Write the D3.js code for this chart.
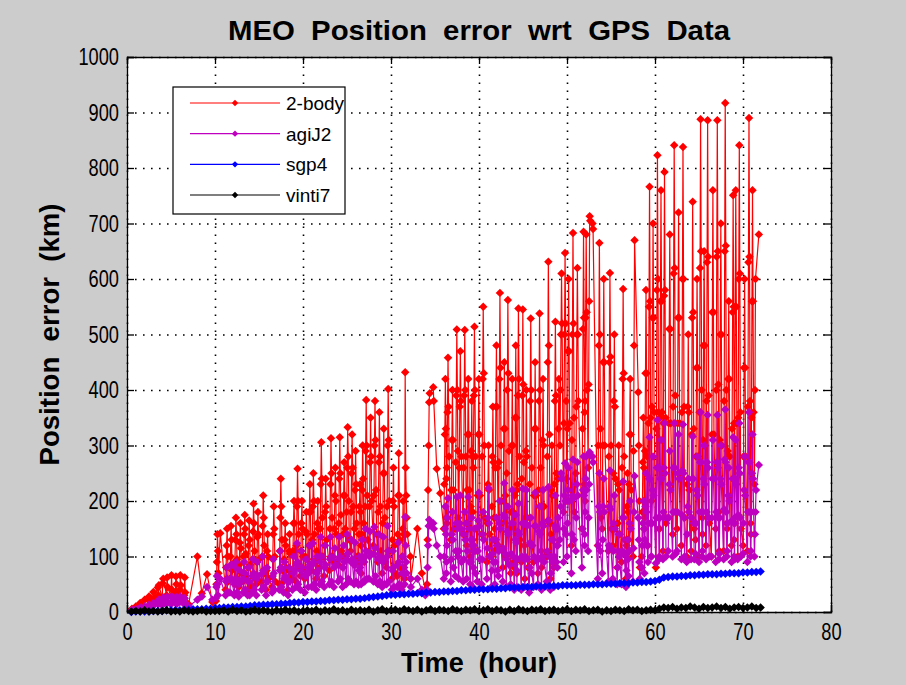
<!DOCTYPE html>
<html>
<head>
<meta charset="utf-8">
<script src="https://cdn.jsdelivr.net/npm/d3@7"></script>
<style>
  html, body { margin: 0; padding: 0; background: #cccccc; }
  svg { display: block; font-family: "Liberation Sans", Arial, sans-serif; }
</style>
</head>
<body>
<div id="chart"></div>
<script>
const chartTitle = 'MEO  Position  error  wrt  GPS  Data';
const xLabel = 'Time  (hour)';
const yLabel = 'Position  error  (km)';
const xTicks = [0, 10, 20, 30, 40, 50, 60, 70, 80];
const yTicks = [0, 100, 200, 300, 400, 500, 600, 700, 800, 900, 1000];
const seriesNames = ['2-body', 'agiJ2', 'sgp4', 'vinti7'];
const seriesColors = ['#ff0000', '#bf00bf', '#0000ff', '#000000'];

// passes: [start hour, error samples (km)], samples 0.06 h apart
const SAMPLE_DT = 0.06;
const twoBody = [
  [0.5, [3, 6]], [1.0, [10]], [1.5, [16, 12]], [2.0, [22]], [2.5, [28, 20]], [3.0, [36, 25]],
  [3.5, [44, 30, 48]], [4.0, [25, 52, 60]], [4.5, [30, 62, 45]], [5.0, [28, 66, 40]],
  [5.5, [35, 64, 50, 30]], [6.0, [40, 66, 48]], [6.5, [30, 62, 35]], [7.0, [14]], [8.0, [100]],
  [8.5, [34]], [9.1, [68]], [9.7, [18]],
  [10.1, [20, 50, 90, 140, 110, 70]], [10.6, [142]], [11.2, [40, 80, 120, 150, 100, 55]],
  [11.7, [60, 100, 155, 130, 75]], [12.2, [50, 90, 130, 170, 140, 95, 60]],
  [12.7, [45, 85, 125, 160, 115, 70]], [13.2, [55, 100, 140, 175, 150, 105, 65]],
  [13.7, [40, 80, 120, 165, 130, 85, 45]], [14.2, [45, 95, 145, 195, 160, 110, 60]],
  [14.7, [50, 90, 135, 180, 140, 95]], [15.3, [55, 100, 155, 210, 170, 120, 70]],
  [15.8, [40, 75, 110, 140, 100, 60]], [16.5, [45, 95, 140, 190, 150, 100, 55]],
  [17.3, [50, 110, 170, 240, 190, 130, 75]], [17.8, [55, 95, 130, 160, 120, 80]],
  [18.3, [40, 75, 110, 140, 105, 65]], [18.8, [60, 110, 160, 200, 160, 110]],
  [19.2, [55, 120, 190, 258, 200, 140, 80]], [19.7, [65, 110, 160, 200, 150, 100]],
  [20.2, [60, 100, 145, 180, 140, 95]], [20.6, [70, 120, 180, 230, 180, 120]],
  [21.0, [75, 130, 190, 250, 200, 140, 90]], [21.5, [60, 110, 160, 200, 150, 100]],
  [21.9, [80, 150, 230, 306, 240, 170, 100]], [22.4, [65, 120, 180, 240, 190, 130]],
  [23.0, [75, 150, 230, 313, 250, 170, 100]], [23.5, [90, 150, 210, 260, 200, 140]],
  [24.0, [85, 160, 240, 315, 250, 175, 110]], [24.5, [80, 140, 210, 270, 210, 150]],
  [24.9, [100, 180, 260, 333, 280, 200, 130]], [25.4, [110, 180, 250, 320, 260, 190]],
  [25.8, [85, 150, 220, 290, 230, 160, 100]], [26.3, [90, 140, 190, 230, 180, 120]],
  [26.6, [70, 140, 220, 300, 240, 160, 90]], [27.0, [100, 190, 290, 382, 300, 210, 130]],
  [27.5, [110, 190, 270, 350, 280, 200]], [28.0, [120, 210, 300, 380, 310, 220, 140]],
  [28.5, [90, 180, 270, 360, 280, 190, 110]], [29.0, [70, 160, 250, 330, 250, 170, 90]],
  [29.5, [80, 190, 300, 402, 310, 200, 110]], [30.1, [60, 130, 200, 260, 190, 120, 70]],
  [30.7, [65, 140, 210, 286, 210, 130, 80]], [31.2, [45, 100, 150, 200, 140, 80]],
  [31.55, [60, 432, 260, 210, 170, 140]], [32.2, [100, 60]], [33.0, [150]], [33.5, [70]],
  [33.9, [40]], [34.1, [50, 130, 220, 300, 378, 394]], [34.8, [405, 380]], [35.2, [258]],
  [35.6, [214]], [36.0, [150, 230, 320, 420, 330, 240, 160]], [36.3, [170, 260, 360, 458, 370, 280]],
  [36.8, [130, 220, 310, 400, 310, 220, 150]], [37.3, [150, 270, 390, 509, 400, 290, 170]],
  [37.7, [160, 260, 370, 470, 380, 280]], [38.2, [140, 260, 390, 508, 400, 280, 160]],
  [38.6, [120, 220, 320, 420, 320, 220]], [39.0, [100, 190, 290, 380, 280, 180, 110]],
  [39.3, [130, 260, 390, 514, 400, 280, 150]], [39.8, [110, 210, 320, 420, 320, 210]],
  [40.3, [140, 280, 420, 550, 430, 300, 170]], [40.9, [90, 160, 230, 300, 220, 140]],
  [41.4, [100, 190, 280, 370, 270, 170, 110]], [41.8, [150, 260, 370, 480, 370, 260]],
  [42.2, [120, 270, 420, 575, 440, 300, 160]], [42.7, [80, 200, 330, 450, 330, 210, 100]],
  [43.1, [100, 250, 400, 562, 430, 290, 150]], [43.6, [70, 180, 300, 420, 300, 180, 90]],
  [44.0, [80, 210, 350, 480, 350, 220]], [44.3, [70, 230, 390, 547, 420, 280, 130]],
  [44.8, [90, 240, 390, 545, 410, 270, 120]], [45.2, [60, 170, 290, 400, 280, 170, 80]],
  [45.7, [80, 230, 380, 529, 400, 260, 120]], [46.2, [90, 210, 330, 450, 330, 210]],
  [46.7, [70, 220, 380, 538, 400, 260, 110]], [47.1, [80, 190, 310, 420, 300, 190, 100]],
  [47.7, [100, 280, 450, 631, 480, 320, 160]], [48.1, [60, 140, 220, 300, 210, 130]],
  [48.5, [80, 230, 380, 523, 390, 250, 120]], [48.9, [150, 240, 330, 420]],
  [49.2, [300, 400, 500, 610, 520]], [49.6, [180, 340, 500, 647, 520, 380, 240]],
  [50.0, [200, 330, 470, 600, 470, 340]], [50.5, [120, 310, 500, 683, 520, 350, 180]],
  [51.0, [250, 370, 500, 620, 500, 380]], [51.7, [150, 330, 510, 685, 530, 360, 200]],
  [52.0, [230, 380, 530, 680, 540, 400]], [52.4, [260, 410, 560, 713, 705]], [52.9, [700, 690]],
  [53.5, [120, 300, 480, 665, 500, 330, 170]], [54.0, [150, 300, 450, 600, 450, 300]],
  [54.7, [110, 280, 450, 611, 460, 300, 150]], [55.2, [120, 250, 380, 500, 370, 240]],
  [55.7, [80, 160, 230, 300, 220, 140]], [56.2, [90, 260, 420, 582, 430, 280, 130]],
  [56.7, [60, 120, 190, 250, 180, 110]], [57.0, [130, 230, 320, 420, 320, 220]],
  [57.5, [100, 290, 480, 670]], [58.1, [396, 300, 200, 80]], [58.5, [100, 180, 270, 350, 260, 170]],
  [58.8, [150, 290, 430, 580, 430, 280]], [59.2, [120, 340, 550, 766, 560, 350, 160]],
  [59.6, [200, 370, 530, 700, 530, 360]], [60.1, [80, 330, 580, 823, 600, 360, 150]],
  [60.5, [150, 350, 560, 760, 560, 360]], [60.9, [110, 340, 570, 793, 580, 350, 160]],
  [61.5, [170, 340, 510, 680, 510, 340]], [62.0, [140, 370, 610, 841, 620, 390, 180]],
  [62.5, [150, 340, 530, 720, 530, 340]], [63.0, [120, 360, 600, 838, 600, 370, 170]],
  [63.6, [100, 230, 370, 500, 360, 220]], [64.1, [110, 320, 530, 739, 540, 330, 150]],
  [64.6, [130, 280, 440, 600, 440, 280]], [65.0, [100, 360, 620, 888, 650, 400, 170]],
  [65.4, [140, 310, 480, 650, 480, 300]], [65.8, [120, 380, 630, 886, 640, 390, 160]],
  [66.4, [100, 320, 540, 760, 540, 320]], [66.9, [150, 400, 640, 886, 650, 410, 180]],
  [67.3, [110, 310, 500, 700, 500, 300]], [67.8, [110, 380, 650, 917, 660, 400, 160]],
  [68.2, [150, 290, 420, 560, 420, 280]], [68.7, [120, 330, 540, 751, 550, 340, 160]],
  [69.0, [130, 340, 550, 760, 550, 340]], [69.4, [100, 350, 600, 841, 610, 360, 150]],
  [70.0, [120, 280, 440, 600, 440, 280]], [70.5, [110, 370, 630, 890, 640, 380, 160]],
  [70.9, [140, 350, 560, 760, 560, 360]], [71.3, [230, 400, 600]], [71.8, [680]],
];

const agiJ2 = [
  [0.5, [2, 4]], [1.0, [5]], [1.5, [8, 6]], [2.0, [10]], [2.5, [13, 9]], [3.0, [16, 12]],
  [3.5, [20, 14, 22]], [4.0, [12, 22, 26]], [4.5, [15, 27, 18]], [5.0, [14, 28, 20]],
  [5.5, [16, 27, 22, 15]], [6.0, [18, 28, 20]], [6.5, [14, 25, 16]], [7.0, [10]], [8.0, [22]],
  [8.5, [28]], [9.1, [45]], [9.7, [22]],
  [10.1, [25, 45, 65, 50, 30]], [10.6, [60]], [11.2, [30, 55, 80, 60, 35]], [11.7, [35, 60, 85, 60]],
  [12.2, [30, 55, 80, 90, 60, 35]], [12.7, [28, 50, 75, 55]], [13.2, [35, 60, 90, 70, 40]],
  [13.7, [30, 55, 80, 55, 30]], [14.2, [35, 65, 95, 70, 40]], [14.7, [30, 60, 90, 65]],
  [15.3, [40, 70, 100, 75, 45]], [15.8, [30, 55, 80, 55]], [16.5, [35, 65, 95, 70, 40]],
  [17.3, [40, 75, 110, 80, 45]], [17.8, [35, 60, 90, 65]], [18.3, [30, 55, 80, 55]],
  [18.8, [40, 70, 100, 75]], [19.2, [45, 85, 124, 90, 50]], [19.7, [40, 75, 110, 80]],
  [20.2, [35, 65, 95, 70]], [20.6, [45, 80, 120, 85]], [21.0, [45, 85, 124, 90, 50]],
  [21.5, [40, 70, 100, 75]], [21.9, [50, 90, 135, 100, 55]], [22.4, [45, 80, 120, 85]],
  [23.0, [50, 95, 135, 100, 55]], [23.5, [45, 80, 115, 85]], [24.0, [55, 95, 135, 100, 60]],
  [24.5, [45, 80, 120, 90]], [24.9, [50, 95, 140, 105, 60]], [25.4, [55, 90, 130, 95]],
  [25.8, [50, 85, 125, 90, 55]], [26.3, [49, 75, 100, 80]], [26.6, [50, 90, 130, 95, 55]],
  [27.0, [55, 100, 150, 110, 60]], [27.5, [60, 100, 145, 105]], [28.0, [55, 105, 153, 115, 65]],
  [28.5, [50, 95, 140, 100, 55]], [29.0, [45, 90, 135, 95, 50]], [29.5, [50, 100, 155, 110, 55]],
  [30.1, [40, 75, 110, 80, 45]], [30.7, [45, 85, 125, 90, 50]], [31.2, [40, 70, 100, 70]],
  [31.55, [50, 171, 120, 90, 70]], [32.2, [60, 45]], [33.0, [60]], [33.5, [40]], [33.9, [30]],
  [34.1, [40, 80, 120, 155, 166]], [34.8, [160, 150]], [35.2, [120]], [35.6, [100]],
  [36.0, [60, 100, 150, 190, 140, 90]], [36.3, [70, 120, 170, 205]],
  [36.8, [55, 95, 140, 180, 130, 80]], [37.3, [65, 110, 160, 207, 150, 100]],
  [37.7, [60, 110, 160, 210, 150, 90]], [38.2, [55, 95, 140, 180, 130]],
  [38.6, [60, 110, 160, 207, 150, 90]], [39.0, [50, 90, 130, 170, 120]],
  [39.3, [45, 80, 120, 150, 110, 70]], [39.8, [55, 110, 165, 215, 155, 95]],
  [40.3, [50, 95, 140, 180, 130]], [40.9, [60, 115, 170, 223, 160, 100]],
  [41.4, [45, 75, 105, 130, 90]], [41.8, [50, 90, 130, 170, 120, 75]],
  [42.2, [65, 110, 160, 200, 150]], [42.7, [55, 115, 175, 232, 170, 105]],
  [43.1, [45, 95, 145, 190, 140, 85]], [43.6, [50, 105, 160, 220, 160, 100]],
  [44.0, [40, 85, 130, 175, 125, 75]], [44.3, [45, 95, 145, 195, 140]],
  [44.8, [40, 100, 160, 222, 160, 95]], [45.2, [45, 100, 160, 220, 155, 95]],
  [45.7, [35, 80, 125, 170, 120, 70]], [46.2, [45, 100, 155, 215, 155, 95]],
  [46.7, [50, 95, 145, 190, 140]], [47.1, [40, 100, 160, 220, 155, 90]],
  [47.7, [55, 110, 165, 225, 165, 100]], [48.1, [40, 70, 100, 130, 90]],
  [48.5, [45, 100, 155, 210, 150, 90]], [48.9, [80, 120, 170]], [49.2, [130, 190, 250, 240]],
  [49.6, [90, 150, 210, 268, 200, 140]], [50.0, [100, 160, 220, 260, 200]],
  [50.5, [70, 140, 210, 275, 205, 130]], [51.0, [110, 170, 230, 270, 210]],
  [51.7, [80, 150, 220, 280, 210, 140]], [52.0, [120, 180, 240, 280, 220]],
  [52.4, [110, 170, 230, 288, 282]], [52.9, [280, 270]], [53.5, [60, 120, 190, 250, 180, 110]],
  [54.0, [70, 130, 190, 240, 180]], [54.7, [55, 120, 190, 255, 185, 115]],
  [55.2, [60, 110, 160, 210, 150]], [55.7, [50, 80, 110, 140, 100]],
  [56.2, [50, 110, 170, 235, 170, 105]], [56.7, [45, 75, 105, 130, 95]],
  [57.0, [65, 110, 160, 200, 150]], [57.5, [55, 115, 180, 245]], [58.1, [170, 130, 90, 60]],
  [58.5, [80, 120, 160, 200, 150]], [58.8, [70, 130, 190, 250, 180, 120]],
  [59.2, [90, 160, 240, 315, 240, 160, 100]], [59.6, [100, 160, 220, 280, 210]],
  [60.1, [88, 170, 260, 346, 260, 170, 95]], [60.5, [100, 170, 240, 310, 240]],
  [60.9, [95, 180, 260, 340, 250, 170, 100]], [61.5, [110, 170, 230, 290, 220]],
  [62.0, [100, 180, 260, 340, 260, 180, 105]], [62.5, [110, 180, 250, 320, 240]],
  [63.0, [95, 175, 255, 338, 250, 170, 100]], [63.6, [90, 140, 190, 240, 180]],
  [64.1, [95, 170, 240, 316, 240, 160, 95]], [64.6, [105, 160, 220, 280, 210]],
  [65.0, [90, 180, 270, 360, 270, 180, 100]], [65.4, [110, 180, 240, 300, 230]],
  [65.8, [95, 180, 270, 355, 260, 170, 100]], [66.4, [100, 170, 240, 310, 240]],
  [66.9, [90, 180, 270, 355, 260, 170, 95]], [67.3, [105, 170, 240, 300, 230]],
  [67.8, [95, 185, 275, 365, 270, 180, 100]], [68.2, [110, 160, 210, 260, 200]],
  [68.7, [90, 165, 240, 315, 240, 160, 95]], [69.0, [100, 170, 240, 310, 230]],
  [69.4, [95, 175, 260, 340, 250, 170, 100]], [70.0, [105, 160, 220, 280, 210]],
  [70.5, [90, 180, 270, 360, 270, 180, 100]], [70.9, [110, 180, 250, 320, 240]],
  [71.3, [100, 140, 180, 220]], [71.8, [265]],
];

// sgp4 and vinti7: one sample every half hour from 0.5 h
const HALF_HOUR_START = 0.5;
const HALF_HOUR_STEP = 0.5;
const sgp4 = [
  0, 1, 1, 1, 1, 2, 2, 2, 3, 3,
  3, 3, 4, 4, 5, 5, 5, 6, 6, 7,
  7, 8, 8, 9, 9, 10, 10, 11, 12, 12,
  13, 13, 14, 14, 15, 15, 16, 17, 17, 18,
  18, 19, 19, 20, 20, 21, 21, 22, 22, 23,
  23, 24, 24, 25, 26, 27, 28, 29, 30, 31,
  31, 32, 32, 33, 33, 34, 34, 35, 35, 36,
  36, 37, 37, 38, 38, 39, 39, 40, 40, 41,
  41, 41, 42, 42, 43, 43, 44, 44, 44, 45,
  45, 45, 46, 46, 46, 47, 47, 47, 48, 48,
  48, 48, 49, 49, 49, 50, 50, 50, 51, 51,
  51, 52, 52, 52, 53, 53, 54, 54, 55, 56,
  58, 62, 63, 64, 64, 65, 65, 66, 66, 67,
  67, 68, 68, 68, 69, 69, 70, 70, 70, 71,
  71, 72, 72, 73,
];
const vinti7 = [
  1, 2, 1, 3, 1, 2, 1, 2, 3, 1, 2, 1, 3, 2, 1, 2, 3, 1, 2, 2,
  2, 3, 1, 4, 2, 3, 1, 2, 4, 2, 3, 2, 1, 3, 2, 4, 2, 3, 1, 2,
  3, 2, 4, 1, 3, 2, 5, 2, 3, 1, 4, 2, 3, 2, 4, 1, 3, 5, 2, 3,
  4, 2, 5, 3, 2, 4, 1, 3, 5, 2, 4, 3, 2, 5, 3, 2, 4, 3, 5, 2,
  3, 5, 2, 4, 3, 1, 4, 2, 5, 3, 2, 4, 3, 5, 2, 3, 4, 2, 3, 5,
  2, 4, 3, 5, 2, 3, 4, 1, 3, 2, 4, 3, 2, 5, 3, 4, 2, 3, 4, 3,
  6, 8, 7, 9, 6, 8, 7, 10, 8, 6, 9, 7, 8, 10, 7, 9, 6, 8, 9, 7, 8, 10, 7, 8,
];

const fromPasses = passes => passes.flatMap(([t, vals]) => vals.map((v, j) => [t + j * SAMPLE_DT, v]));
const fromHalfHours = vals => vals.map((v, i) => [HALF_HOUR_START + i * HALF_HOUR_STEP, v]);

const seriesPoints = [fromPasses(twoBody), fromPasses(agiJ2), fromHalfHours(sgp4), fromHalfHours(vinti7)];

const width = 906;
const height = 685;
const plot = { left: 127, right: 831, top: 57, bottom: 612 };

const svg = d3.select('#chart').append('svg')
  .attr('width', width)
  .attr('height', height);

svg.append('rect')
  .attr('width', width).attr('height', height)
  .attr('fill', '#cccccc');

svg.append('rect')
  .attr('x', plot.left).attr('y', plot.top)
  .attr('width', plot.right - plot.left).attr('height', plot.bottom - plot.top)
  .attr('fill', '#ffffff');

const x = d3.scaleLinear().domain([0, 80]).range([plot.left, plot.right]);
const y = d3.scaleLinear().domain([0, 1000]).range([plot.bottom, plot.top]);

// dotted grid
const gridX = svg.append('g')
  .attr('transform', `translate(0,${plot.bottom})`)
  .call(d3.axisBottom(x).tickValues(xTicks).tickSize(-(plot.bottom - plot.top)).tickFormat(''));
const gridY = svg.append('g')
  .attr('transform', `translate(${plot.left},0)`)
  .call(d3.axisLeft(y).tickValues(yTicks).tickSize(-(plot.right - plot.left)).tickFormat(''));
[gridX, gridY].forEach((g) => {
  g.select('.domain').remove();
  g.selectAll('line')
    .attr('stroke', '#000')
    .attr('stroke-width', 1.6)
    .attr('stroke-dasharray', '1.6,6.4');
});

// series: lines with diamond markers
const line = d3.line().x(d => x(d[0])).y(d => y(d[1]));
const diamond = d3.symbol().type(d3.symbolDiamond2).size(46);

seriesPoints.forEach((pts, i) => {
  const g = svg.append('g').attr('class', 'series');
  g.append('path')
    .datum(pts)
    .attr('d', line)
    .attr('fill', 'none')
    .attr('stroke', seriesColors[i])
    .attr('stroke-width', 1.2);
  g.selectAll('path.mark')
    .data(pts)
    .enter().append('path')
    .attr('class', 'mark')
    .attr('d', diamond)
    .attr('transform', d => `translate(${x(d[0])},${y(d[1])})`)
    .attr('fill', seriesColors[i]);
});

// box axes with inward ticks
const tickFont = (sel, anchor) => sel.selectAll('text')
  .attr('fill', '#000')
  .style('font-size', '24px')
  .style('font-family', '"Liberation Sans", Arial, sans-serif')
  .attr('text-anchor', anchor);

const axB = svg.append('g')
  .attr('transform', `translate(0,${plot.bottom})`)
  .call(d3.axisBottom(x).tickValues(xTicks).tickSize(-7).tickPadding(11).tickFormat(d3.format('d')));
tickFont(axB, 'middle');
axB.selectAll('text').attr('transform', 'scale(0.76,1)');

const axL = svg.append('g')
  .attr('transform', `translate(${plot.left},0)`)
  .call(d3.axisLeft(y).tickValues(yTicks).tickSize(-7).tickPadding(0).tickFormat(d3.format('d')));
tickFont(axL, 'end');
axL.selectAll('text').attr('x', -8 / 0.76).attr('transform', 'scale(0.76,1)');

const axT = svg.append('g')
  .attr('transform', `translate(0,${plot.top})`)
  .call(d3.axisTop(x).tickValues(xTicks).tickSize(-7).tickFormat(''));
const axR = svg.append('g')
  .attr('transform', `translate(${plot.right},0)`)
  .call(d3.axisRight(y).tickValues(yTicks).tickSize(-7).tickFormat(''));

[axB, axL, axT, axR].forEach((g) => {
  g.select('.domain').attr('stroke', '#000').attr('stroke-width', 1.3);
  g.selectAll('.tick line').attr('stroke', '#000').attr('stroke-width', 1.3);
});

// titles
svg.append('text')
  .attr('x', (plot.left + plot.right) / 2)
  .attr('y', 40)
  .attr('text-anchor', 'middle')
  .attr('textLength', 502)
  .attr('lengthAdjust', 'spacingAndGlyphs')
  .style('white-space', 'pre')
  .style('font-size', '28px')
  .style('font-weight', 'bold')
  .text(chartTitle);

svg.append('text')
  .attr('x', (plot.left + plot.right) / 2)
  .attr('y', 672)
  .attr('text-anchor', 'middle')
  .attr('textLength', 156)
  .attr('lengthAdjust', 'spacingAndGlyphs')
  .style('white-space', 'pre')
  .style('font-size', '27px')
  .style('font-weight', 'bold')
  .text(xLabel);

svg.append('text')
  .attr('transform', `translate(59,${(plot.top + plot.bottom) / 2}) rotate(-90)`)
  .attr('text-anchor', 'middle')
  .attr('textLength', 262)
  .attr('lengthAdjust', 'spacingAndGlyphs')
  .style('white-space', 'pre')
  .style('font-size', '27px')
  .style('font-weight', 'bold')
  .text(yLabel);

// legend
const legend = svg.append('g').attr('transform', 'translate(173,87)');
legend.append('rect')
  .attr('width', 172).attr('height', 127)
  .attr('fill', '#fff')
  .attr('stroke', '#000')
  .attr('stroke-width', 1.2);

const legendRow = d3.scaleLinear().domain([0, 3]).range([16, 108]);
seriesNames.forEach((name, i) => {
  const row = legend.append('g').attr('transform', `translate(0,${legendRow(i)})`);
  row.append('line')
    .attr('x1', 17).attr('x2', 107)
    .attr('stroke', seriesColors[i])
    .attr('stroke-width', 1.2);
  row.append('path')
    .attr('d', d3.symbol().type(d3.symbolDiamond2).size(26))
    .attr('transform', 'translate(62,0)')
    .attr('fill', seriesColors[i]);
  row.append('text')
    .attr('x', 113)
    .attr('y', 7)
    .style('font-size', '19px')
    .text(name);
});
</script>
</body>
</html>
